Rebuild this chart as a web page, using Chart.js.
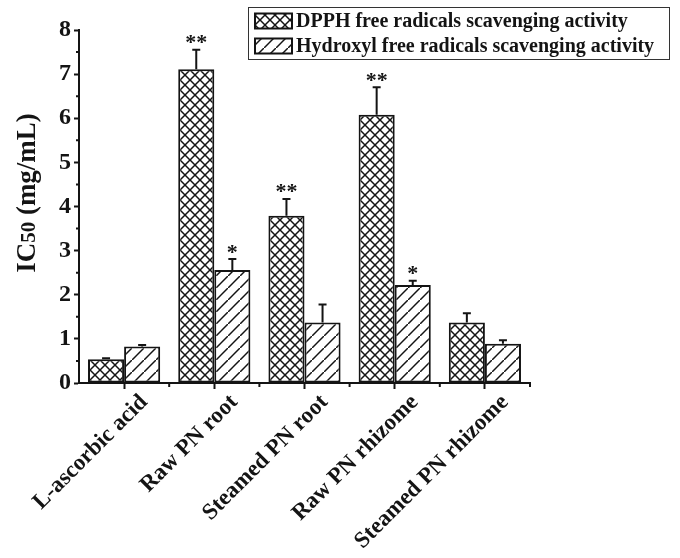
<!DOCTYPE html>
<html><head><meta charset="utf-8">
<script src="https://cdn.jsdelivr.net/npm/chart.js@4/dist/chart.umd.min.js"></script>
<style>html,body{margin:0;padding:0;background:#fff}canvas{display:block}</style>
</head><body><canvas id="c" width="680" height="558"></canvas>
<script>
const categories = ['L-ascorbic acid', 'Raw PN root', 'Steamed PN root', 'Raw PN rhizome', 'Steamed PN rhizome'];
const seriesNames = ['DPPH free radicals scavenging activity', 'Hydroxyl free radicals scavenging activity'];
const dpphValues = [0.54, 7.11, 3.79, 6.08, 1.37];
const dpphErrors = [0.02, 0.44, 0.38, 0.62, 0.21];
const hydroxylValues = [0.83, 2.56, 1.37, 2.22, 0.89];
const hydroxylErrors = [0.03, 0.25, 0.41, 0.10, 0.08];
const dpphMarks = ['', '**', '**', '**', ''];
const hydroxylMarks = ['', '*', '', '*', ''];
const yMin = 0, yMax = 8, yStep = 1, yMinorStep = 0.5;
const yTitleMain = 'IC', yTitleSub = '50', yTitleRest = ' (mg/mL)';

const INK = '#141414';
const SERIF = '"Liberation Serif", "Times New Roman", serif';

function makeCross() {
  const s = 10, c = document.createElement('canvas');
  c.width = s; c.height = s;
  const g = c.getContext('2d');
  g.fillStyle = '#fff'; g.fillRect(0, 0, s, s);
  g.strokeStyle = INK; g.lineWidth = 1.5;
  g.beginPath();
  g.moveTo(-2, -2); g.lineTo(s + 2, s + 2);
  g.moveTo(s + 2, -2); g.lineTo(-2, s + 2);
  g.stroke();
  return g.createPattern(c, 'repeat');
}
function makeHatch() {
  const s = 12, c = document.createElement('canvas');
  c.width = s; c.height = s;
  const g = c.getContext('2d');
  g.fillStyle = '#fff'; g.fillRect(0, 0, s, s);
  g.strokeStyle = INK; g.lineWidth = 1.5;
  g.beginPath();
  g.moveTo(-2, s + 2); g.lineTo(s + 2, -2);
  g.stroke();
  return g.createPattern(c, 'repeat');
}
const crossFill = makeCross();
const hatchFill = makeHatch();

const errs = [dpphErrors, hydroxylErrors];
const marks = [dpphMarks, hydroxylMarks];

const extras = {
  id: 'extras',
  afterDatasetsDraw(chart) {
    const ctx = chart.ctx, y = chart.scales.y, x = chart.scales.x;
    ctx.save();
    ctx.strokeStyle = INK; ctx.fillStyle = INK; ctx.lineWidth = 2;
    chart.data.datasets.forEach((ds, di) => {
      const meta = chart.getDatasetMeta(di);
      meta.data.forEach((el, i) => {
        const top = y.getPixelForValue(ds.data[i] + errs[di][i]);
        ctx.beginPath();
        ctx.moveTo(el.x, el.y); ctx.lineTo(el.x, top);
        ctx.moveTo(el.x - 4, top); ctx.lineTo(el.x + 4, top);
        ctx.stroke();
        const m = marks[di][i];
        if (m) {
          ctx.font = 'bold 22px ' + SERIF;
          ctx.textAlign = 'center'; ctx.textBaseline = 'alphabetic';
          const mt = ctx.measureText(m);
          const cy = top - 10;
          const off = (mt.actualBoundingBoxAscent - mt.actualBoundingBoxDescent) / 2;
          ctx.fillText(m, el.x, cy + off);
        }
      });
    });
    // minor ticks
    ctx.lineWidth = 2;
    ctx.beginPath();
    for (let v = yMin + yMinorStep; v < yMax; v += yStep) {
      const py = y.getPixelForValue(v);
      ctx.moveTo(y.right, py); ctx.lineTo(y.right - 3, py);
    }
    const n = categories.length;
    const step = x.getPixelForValue(1) - x.getPixelForValue(0);
    for (let i = 0; i < n; i++) {
      const px = x.getPixelForValue(i) + step / 2;
      ctx.moveTo(px, x.top); ctx.lineTo(px, x.top + 4);
    }
    ctx.stroke();
    ctx.restore();
  },
  afterDraw(chart) {
    const ctx = chart.ctx;
    ctx.save();
    // legend
    ctx.strokeStyle = '#333'; ctx.lineWidth = 1;
    ctx.strokeRect(248.5, 7.5, 421, 52);
    const fills = [crossFill, hatchFill];
    const rows = [21, 46];
    ctx.font = 'bold 20px ' + SERIF;
    ctx.textBaseline = 'middle'; ctx.textAlign = 'left';
    rows.forEach((ry, i) => {
      ctx.fillStyle = fills[i];
      ctx.fillRect(255, ry - 7.5, 37, 15);
      ctx.strokeStyle = INK; ctx.lineWidth = 2;
      ctx.strokeRect(255, ry - 7.5, 37, 15);
      ctx.fillStyle = INK;
      ctx.fillText(seriesNames[i], 296, ry + 1);
    });
    // y title
    ctx.translate(35, 193);
    ctx.rotate(-Math.PI / 2);
    ctx.textBaseline = 'alphabetic';
    const fMain = 'bold 27px ' + SERIF, fSub = 'bold 21px ' + SERIF;
    ctx.font = fMain; const w1 = ctx.measureText(yTitleMain).width, w3 = ctx.measureText(yTitleRest).width;
    ctx.font = fSub; const w2 = ctx.measureText(yTitleSub).width;
    let sx = -(w1 + w2 + w3) / 2;
    ctx.fillStyle = INK;
    ctx.font = fMain; ctx.fillText(yTitleMain, sx, 0); sx += w1;
    ctx.font = fSub; ctx.fillText(yTitleSub, sx, 0); sx += w2;
    ctx.font = fMain; ctx.fillText(yTitleRest, sx, 0);
    ctx.restore();
  }
};

new Chart(document.getElementById('c'), {
  type: 'bar',
  data: {
    labels: categories,
    datasets: [
      { label: seriesNames[0], data: dpphValues, backgroundColor: crossFill, borderColor: INK, borderWidth: 2, borderSkipped: false },
      { label: seriesNames[1], data: hydroxylValues, backgroundColor: hatchFill, borderColor: INK, borderWidth: 2, borderSkipped: false }
    ]
  },
  options: {
    responsive: false,
    animation: false,
    events: [],
    layout: { padding: { left: 0, right: 150, top: 30, bottom: 0 } },
    datasets: { bar: { categoryPercentage: 0.8, barPercentage: 1.0 } },
    plugins: { legend: { display: false }, tooltip: { enabled: false } },
    scales: {
      x: {
        grid: { display: true, drawOnChartArea: false, offset: false, color: INK, tickLength: 6, tickWidth: 2 },
        border: { display: true, color: INK, width: 2 },
        ticks: { color: INK, font: { family: SERIF, weight: 'bold', size: 23 }, minRotation: 45, maxRotation: 45, padding: 0, labelOffset: 20, autoSkip: false },
        afterFit(s) { s.height = 558 - 383; }
      },
      y: {
        min: yMin, max: yMax,
        grid: { display: true, drawOnChartArea: false, color: INK, tickLength: 5, tickWidth: 2 },
        border: { display: true, color: INK, width: 2 },
        ticks: { stepSize: yStep, color: INK, font: { family: SERIF, weight: 'bold', size: 24 }, padding: 3 },
        afterFit(s) { s.width = 79; }
      }
    }
  },
  plugins: [extras]
});
</script>
</body></html>
